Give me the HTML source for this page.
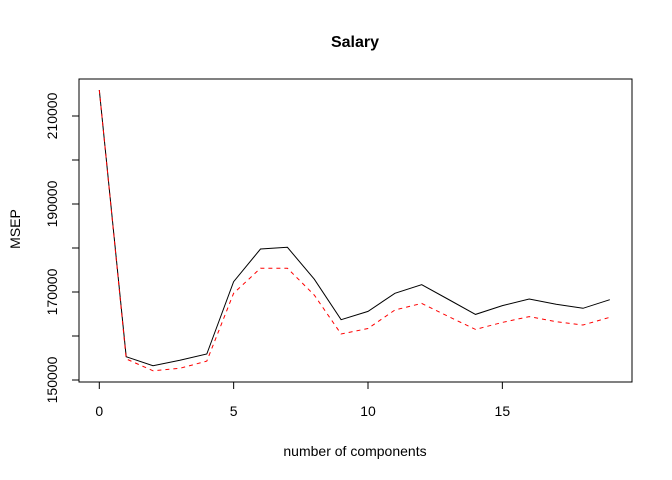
<!DOCTYPE html>
<html><head><meta charset="utf-8"><style>
body{margin:0;background:#fff}
svg{display:block;font-family:"Liberation Sans",Arial,sans-serif}
</style></head><body>
<svg width="672" height="480" id="c">
<text x="355" y="47" text-anchor="middle" font-size="16" font-weight="bold">Salary</text>
<rect x="79" y="79" width="553" height="303" fill="none" stroke="#000"/>
<text x="355" y="456" text-anchor="middle" font-size="14">number of components</text>
<text transform="translate(20,229) rotate(-90)" text-anchor="middle" font-size="14">MSEP</text>
<g id="ax"></g><g id="lines"></g>
</svg>
<script>
const comps=[0,1,2,3,4,5,6,7,8,9,10,11,12,13,14,15,16,17,18,19];
const cvValues=[215900,155300,153250,154500,155900,172350,179770,180150,172900,163700,165600,169700,171670,168300,164900,166900,168400,167200,166300,168250];
const adjValues=[215900,154800,152100,152650,154300,169700,175400,175400,169300,160450,161700,165900,167400,164400,161500,163100,164400,163250,162500,164250];
const xTicks=[0,5,10,15];
const yTicks=[150000,170000,190000,210000];
const yMinor=[160000,180000,200000];
const NS="http://www.w3.org/2000/svg";
const X=v=>99.3+v*26.87;
const Y=v=>380-(v-150000)*0.0044;
const ax=document.getElementById('ax'),lg=document.getElementById('lines');
function mk(tag,a,p){const e=document.createElementNS(NS,tag);for(const k in a)e.setAttribute(k,a[k]);p.appendChild(e);return e;}
const xl=mk('line',{x1:X(xTicks[0]),x2:X(xTicks[xTicks.length-1]),y1:382,y2:382,stroke:'#000'},ax);


xTicks.forEach(t=>{
 const l=mk('line',{x1:X(t),x2:X(t),y1:382,y2:389,stroke:'#000'},ax);
 
 
 const s=mk('text',{x:X(t),y:416,'text-anchor':'middle','font-size':14},ax);s.textContent=t;
 
 
});
const yl=mk('line',{x1:79,x2:79,y1:Y(150000),y2:Y(210000),stroke:'#000'},ax);


yTicks.concat(yMinor).forEach(t=>{
 const l=mk('line',{x1:72,x2:79,y1:Y(t),y2:Y(t),stroke:'#000'},ax);
 
 
});
yTicks.forEach(t=>{
 const s=mk('text',{transform:`translate(57,${Y(t)}) rotate(-90)`,'text-anchor':'middle','font-size':14},ax);s.textContent=t;
 
 
});
function path(vals){return vals.map((v,i)=>(i?'L':'M')+X(comps[i]).toFixed(1)+','+Y(v).toFixed(1)).join('');}
const p1=mk('path',{d:path(cvValues),fill:'none',stroke:'#000','stroke-width':1},lg);


const p2=mk('path',{d:path(adjValues),fill:'none',stroke:'#f00','stroke-width':1,'stroke-dasharray':'4,4'},lg);


</script>
</body></html>
